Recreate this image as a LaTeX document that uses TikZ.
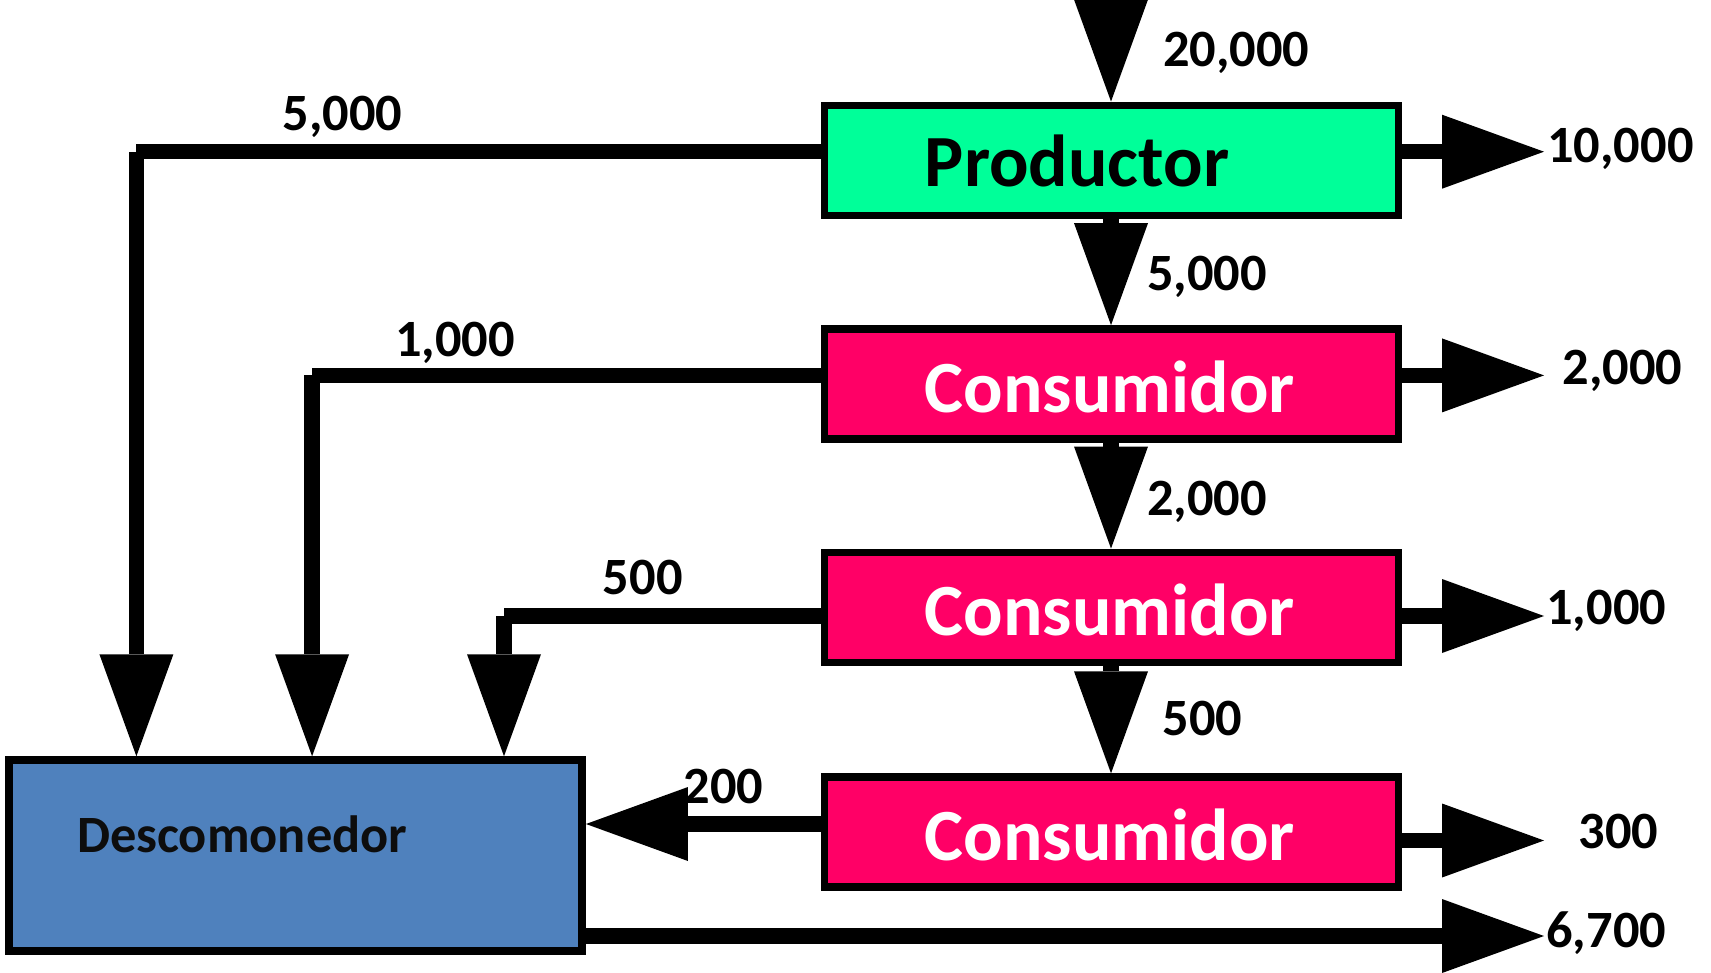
\documentclass[tikz,border=0pt]{standalone}
\usepackage{fontspec}
\setmainfont{Carlito}
\usetikzlibrary{arrows.meta}
\definecolor{prodgreen}{HTML}{00FF99}
\definecolor{conspink}{HTML}{FF0066}
\definecolor{descblue}{HTML}{4F81BD}
\begin{document}
\begin{tikzpicture}[x=0.5pt,y=-0.5pt,
  box/.style={draw=black,line width=3.85pt,inner sep=0pt,minimum width=287pt,minimum height=55pt},
  ln/.style={line width=7.75pt,line cap=butt},
  arr/.style={ln,-{Triangle[length=51pt,width=37pt,line width=0pt]}},
  num/.style={anchor=base,inner sep=0pt,font=\fontsize{26.2}{30}\selectfont\bfseries},
  big/.style={anchor=base,inner sep=0pt,font=\fontsize{36.8}{40}\selectfont\bfseries}]
\useasboundingbox (0,0) rectangle (1711,973);

% boxes
\node[box,fill=prodgreen] (P)  at (1111.4,160.4) {};
\node[box,fill=conspink]  (C1) at (1111.4,384.0) {};
\node[box,fill=conspink]  (C2) at (1111.4,607.4) {};
\node[box,fill=conspink]  (C3) at (1111.4,832.2) {};
\node[box,fill=descblue,minimum width=286.4pt,minimum height=95.6pt] (D) at (295.7,855.7) {};

% box texts
\node[big,text=black] (tP)  at (1077,187) {Productor};
\node[big,text=white] (tC1) at (1109.7,412) {Consumidor};
\node[big,text=white] (tC2) at (1109.7,635.7) {Consumidor};
\node[big,text=white] (tC3) at (1109.7,860.5) {Consumidor};
\node[num,text=black!95] (tD) at (242.2,852) {Descomonedor};

% coordinates
\coordinate (top) at (1111,-40);
\coordinate (rP)  at (1544,151.7);
\coordinate (rC1) at (1544,375.4);
\coordinate (rC2) at (1544,616.0);
\coordinate (rC3) at (1544,840.5);
\coordinate (rD)  at (1544,936.0);
\coordinate (k1) at (136.4,151.7);
\coordinate (k2) at (312.1,375.4);
\coordinate (k3) at (504.0,616.0);
\coordinate (k4) at (0,824.0);

% vertical chain
\draw[arr] (top) -- (top |- P.north);
\draw[arr] (top |- P.south) -- (top |- C1.north);
\draw[arr] (top |- C1.south) -- (top |- C2.north);
\draw[arr] (top |- C2.south) -- (top |- C3.north);

% right outputs
\draw[arr] (rP -| P.east) -- (rP);
\draw[arr] (rC1 -| C1.east) -- (rC1);
\draw[arr] (rC2 -| C2.east) -- (rC2);
\draw[arr] (rC3 -| C3.east) -- (rC3);
\draw[arr] (rD -| D.east) -- (rD);

% to decomposer
\draw[ln] (k1 -| P.west) -- (k1);
\draw[arr] (k1) -- (k1 |- D.north);
\draw[ln] (k2 -| C1.west) -- (k2);
\draw[arr] (k2) -- (k2 |- D.north);
\draw[ln] (k3 -| C2.west) -- (k3);
\draw[arr] (k3) -- (k3 |- D.north);
\draw[arr] (k4 -| C3.west) -- (k4 -| D.east);

% numbers
\node[num] (n1)  at (1236.3,66.8)  {20,000};
\node[num] (n2)  at (1620.4,162.8) {10,000};
\node[num] (n3)  at (342.6,130.1)  {5,000};
\node[num] (n4)  at (1206.9,290.5) {5,000};
\node[num] (n5)  at (455.0,356.0)  {1,000};
\node[num] (n6)  at (1622.6,384.3) {2,000};
\node[num] (n7)  at (1206.9,515.3) {2,000};
\node[num] (n8)  at (642.7,594.9)  {500};
\node[num] (n9)  at (1606.2,624.4) {1,000};
\node[num] (n10) at (1202.5,735.7) {500};
\node[num] (n11) at (723.5,803.4)  {200};
\node[num] (n12) at (1618.3,848.1) {300};
\node[num] (n13) at (1606.2,947.4) {6,700};
\end{tikzpicture}
\end{document}
